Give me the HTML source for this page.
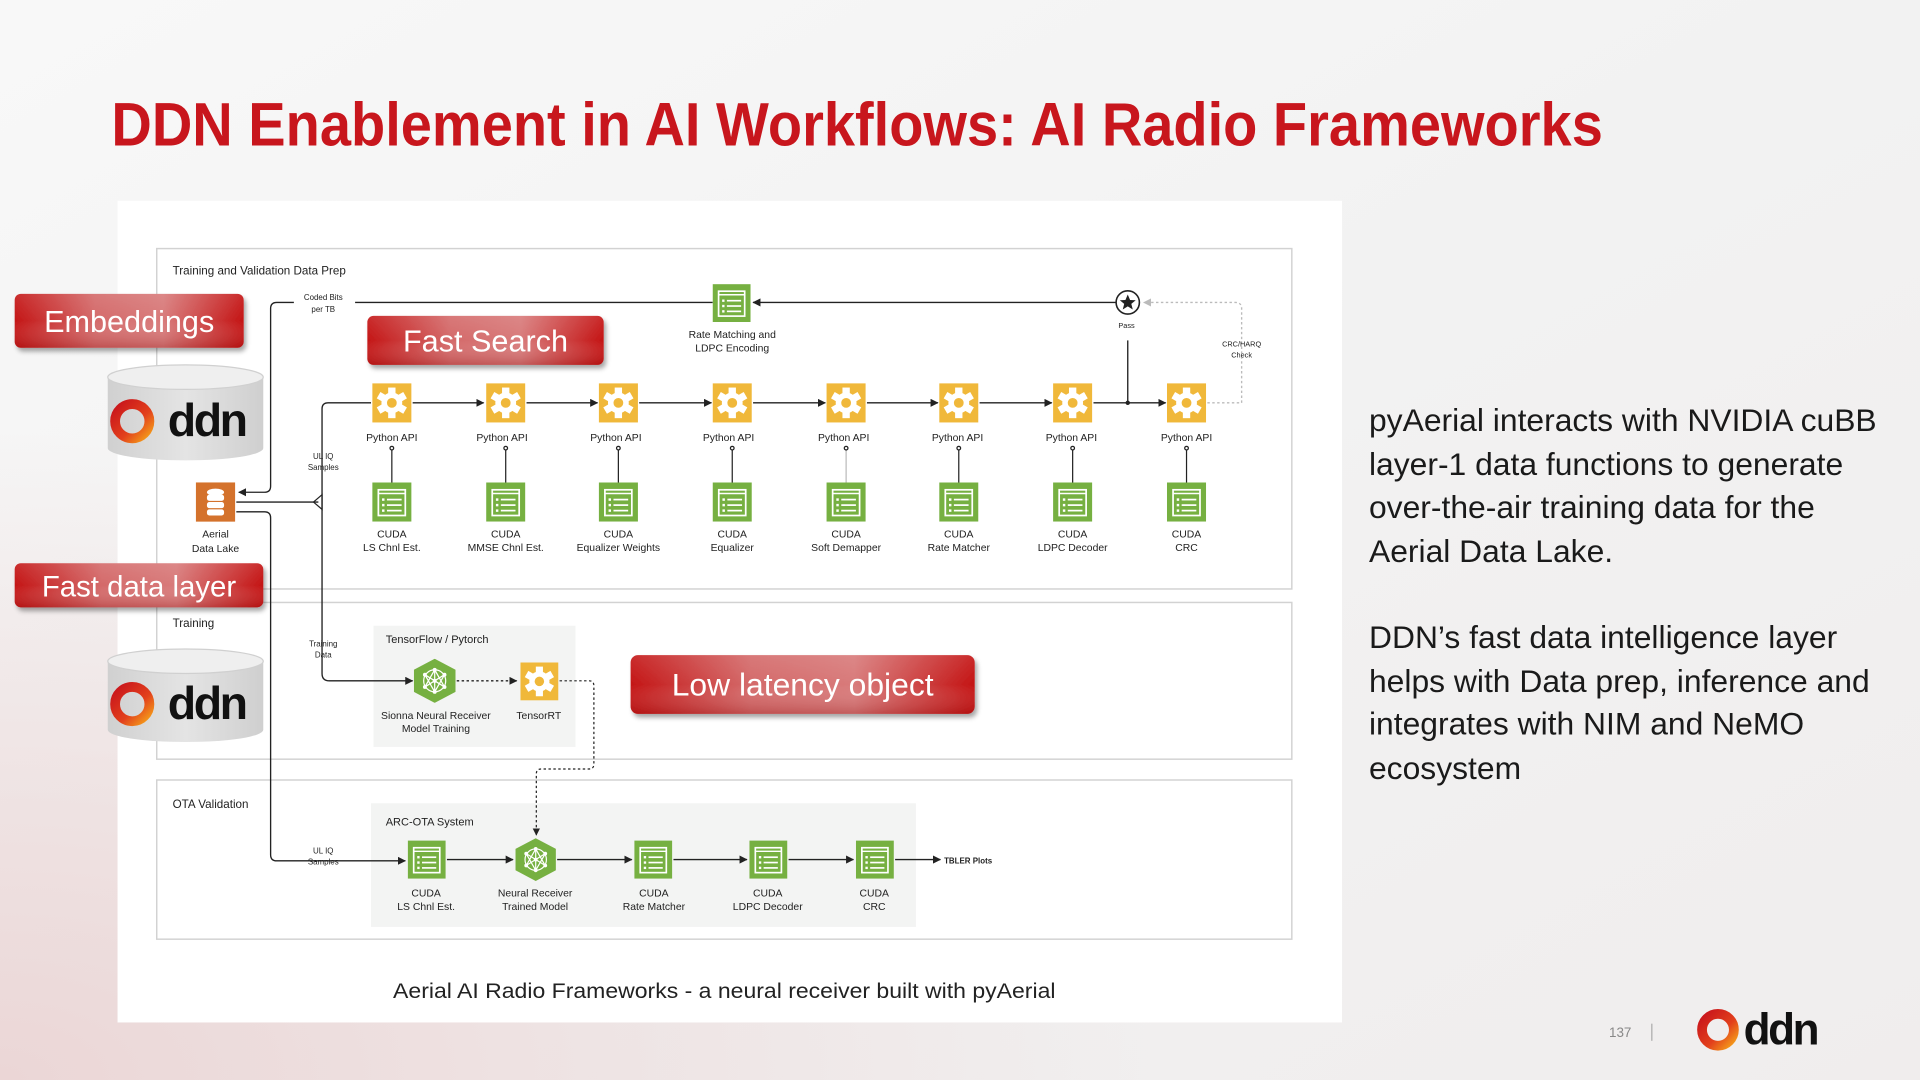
<!DOCTYPE html>
<html><head><meta charset="utf-8">
<style>
html,body{margin:0;padding:0;width:1920px;height:1080px;overflow:hidden;background:#f3f3f3}
svg{display:block}
text{font-family:"Liberation Sans",sans-serif}
</style></head>
<body>
<svg width="1920" height="1080" viewBox="0 0 1568 882" xmlns="http://www.w3.org/2000/svg">
<defs>
<linearGradient id="bg" x1="0" y1="0" x2="1" y2="1">
<stop offset="0" stop-color="#f8f8f8"/><stop offset="0.5" stop-color="#f2f2f2"/><stop offset="1" stop-color="#f0eded"/>
</linearGradient>
<radialGradient id="bgl" cx="0" cy="1" r="0.6" gradientTransform="scale(1,1)">
<stop offset="0" stop-color="#ebd6d6" stop-opacity="1"/><stop offset="1" stop-color="#ebd6d6" stop-opacity="0"/>
</radialGradient>
<linearGradient id="badge" x1="0" y1="0" x2="1" y2="0">
<stop offset="0" stop-color="#c41616"/><stop offset="0.35" stop-color="#d46a6a"/><stop offset="0.65" stop-color="#d87a7a"/><stop offset="1" stop-color="#c41414"/>
</linearGradient>
<linearGradient id="badgev" x1="0" y1="0" x2="0" y2="1">
<stop offset="0" stop-color="#ffffff" stop-opacity="0.1"/><stop offset="0.5" stop-color="#ffffff" stop-opacity="0"/><stop offset="1" stop-color="#800000" stop-opacity="0.25"/>
</linearGradient>
<linearGradient id="cyl" x1="0" y1="0" x2="1" y2="0">
<stop offset="0" stop-color="#d0d0d0"/><stop offset="0.5" stop-color="#e4e4e4"/><stop offset="1" stop-color="#cfcfcf"/>
</linearGradient>
<linearGradient id="ring" x1="0" y1="0" x2="1" y2="1">
<stop offset="0" stop-color="#c8141c"/><stop offset="0.6" stop-color="#e2401c"/><stop offset="1" stop-color="#f5a01a"/>
</linearGradient>
<filter id="sh" x="-10%" y="-20%" width="125%" height="160%"><feDropShadow dx="2" dy="3" stdDeviation="2" flood-color="#000" flood-opacity="0.35"/></filter>
<marker id="ar" viewBox="0 0 6 6" refX="5.5" refY="3" markerWidth="6" markerHeight="6" orient="auto"><path d="M0,0 L6,3 L0,6 z" fill="#222"/></marker>
<marker id="arg" viewBox="0 0 6 6" refX="5.5" refY="3" markerWidth="6" markerHeight="6" orient="auto"><path d="M0,0 L6,3 L0,6 z" fill="#bbb"/></marker>
<symbol id="gear" viewBox="0 0 32 32">
<rect width="32" height="32" fill="#f0b83a"/>
<g fill="#fff" transform="translate(16,16)">
<circle r="8.5"/>
<rect x="-3" y="-12.5" width="6" height="25"/>
<rect x="-3" y="-12.5" width="6" height="25" transform="rotate(60)"/>
<rect x="-3" y="-12.5" width="6" height="25" transform="rotate(120)"/>
</g>
<circle cx="16" cy="16" r="4" fill="#f0b83a"/>
</symbol>
<symbol id="doc" viewBox="0 0 32 32">
<rect width="32" height="32" fill="#76b041"/>
<rect x="5" y="6" width="22" height="21" fill="none" stroke="#fff" stroke-width="1.4"/>
<line x1="5" y1="9" x2="27" y2="9" stroke="#fff" stroke-width="1.2"/>
<g fill="#fff"><rect x="8" y="13" width="2" height="2"/><rect x="8" y="17.5" width="2" height="2"/><rect x="8" y="22" width="2" height="2"/>
<rect x="12" y="13.3" width="12" height="1.4"/><rect x="12" y="17.8" width="12" height="1.4"/><rect x="12" y="22.3" width="12" height="1.4"/></g>
</symbol>
<symbol id="hex" viewBox="0 0 34 36">
<path d="M17,0 L34,9 L34,27 L17,36 L0,27 L0,9 z" fill="#76b041"/>
<g stroke="#fff" stroke-width="1" fill="none"><circle cx="17" cy="18" r="9"/><path d="M17,9 L17,27 M9,13 L25,23 M25,13 L9,23 M9,13 L17,27 L25,13 M9,23 L17,9 L25,23"/></g>
<g fill="#fff"><circle cx="17" cy="9" r="1.6"/><circle cx="17" cy="27" r="1.6"/><circle cx="9" cy="13" r="1.6"/><circle cx="25" cy="13" r="1.6"/><circle cx="9" cy="23" r="1.6"/><circle cx="25" cy="23" r="1.6"/><circle cx="17" cy="18" r="1.6"/></g>
</symbol>
</defs>

<rect width="1568" height="882" fill="url(#bg)"/>
<rect x="0" y="0" width="1568" height="882" fill="url(#bgl)"/>

<text x="91" y="119" font-size="50" font-weight="bold" fill="#c8161d" textLength="1218" lengthAdjust="spacingAndGlyphs">DDN Enablement in AI Workflows: AI Radio Frameworks</text>

<rect x="96" y="164" width="1000" height="671" fill="#fff"/>
<g fill="none" stroke="#d2d2d2" stroke-width="1.2">
<rect x="128" y="203" width="927" height="278"/>
<rect x="128" y="492" width="927" height="128"/>
<rect x="128" y="637" width="927" height="130"/>
</g>
<text x="141" y="224" font-size="9.5" fill="#222">Training and Validation Data Prep</text>
<text x="141" y="512" font-size="9.5" fill="#222">Training</text>
<text x="141" y="660" font-size="9.5" fill="#222">OTA Validation</text>

<rect x="305" y="511" width="165" height="99" fill="#f3f4f3"/>
<rect x="303" y="656" width="445" height="101" fill="#f3f4f3"/>
<text x="315" y="525" font-size="9" fill="#222">TensorFlow / Pytorch</text>
<text x="315" y="674" font-size="9" fill="#222">ARC-OTA System</text>

<g stroke="#222" stroke-width="1.1" fill="none">
<path d="M582,247 H290"/>
<path d="M240,247 H226 Q221,247 221,252 V397 Q221,402 216,402 H195" marker-end="url(#ar)"/>
<path d="M193,410 H260"/>
<path d="M303,329 H268 Q263,329 263,334 V550 Q263,556 269,556 H337" marker-end="url(#ar)"/>
<path d="M193,418 H216 Q221,418 221,423 V698 Q221,703 226,703 H331" marker-end="url(#ar)"/>
<path d="M911,247 H615" marker-end="url(#ar)"/>
<path d="M921,278 V329"/>
</g>
<path d="M256,410 L263,404 L263,416 z" fill="none" stroke="#222" stroke-width="1"/>
<circle cx="921" cy="329" r="1.8" fill="#222"/>
<g stroke="#222" stroke-width="1.1" fill="none">
<path d="M337,329 H395" marker-end="url(#ar)"/>
<path d="M430,329 H488" marker-end="url(#ar)"/>
<path d="M522,329 H581" marker-end="url(#ar)"/>
<path d="M615,329 H674" marker-end="url(#ar)"/>
<path d="M708,329 H766" marker-end="url(#ar)"/>
<path d="M800,329 H859" marker-end="url(#ar)"/>
<path d="M893,329 H952" marker-end="url(#ar)"/>
</g>
<path d="M986,329 H1014 V252 Q1014,247 1009,247 H934" fill="none" stroke="#bbb" stroke-width="1.1" stroke-dasharray="2,2" marker-end="url(#arg)"/>

<text x="264" y="245" font-size="6.5" fill="#222" text-anchor="middle">Coded Bits</text>
<text x="264" y="255" font-size="6.5" fill="#222" text-anchor="middle">per TB</text>
<text x="264" y="375" font-size="6.5" fill="#222" text-anchor="middle">UL IQ</text>
<text x="264" y="384" font-size="6.5" fill="#222" text-anchor="middle">Samples</text>
<text x="264" y="528" font-size="6.5" fill="#222" text-anchor="middle">Training</text>
<text x="264" y="537" font-size="6.5" fill="#222" text-anchor="middle">Data</text>
<text x="264" y="697" font-size="6.5" fill="#222" text-anchor="middle">UL IQ</text>
<text x="264" y="706" font-size="6.5" fill="#222" text-anchor="middle">Samples</text>
<text x="920" y="268" font-size="6" fill="#222" text-anchor="middle">Pass</text>
<text x="1014" y="283" font-size="6" fill="#222" text-anchor="middle">CRC/HARQ</text>
<text x="1014" y="292" font-size="6" fill="#222" text-anchor="middle">Check</text>

<circle cx="921" cy="247" r="9.5" fill="#fff" stroke="#222" stroke-width="1.3"/>
<path d="M921,240.5 L922.9,245 L927.5,245.2 L923.9,248.2 L925.1,252.8 L921,250.2 L916.9,252.8 L918.1,248.2 L914.5,245.2 L919.1,245 z" fill="#222"/>

<use href="#doc" x="582" y="232" width="31" height="31"/>
<text x="598" y="276" font-size="8.5" fill="#222" text-anchor="middle">Rate Matching and</text>
<text x="598" y="287" font-size="8.5" fill="#222" text-anchor="middle">LDPC Encoding</text>

<rect x="160" y="394" width="32" height="32" fill="#d4722c"/>
<g fill="#fff"><ellipse cx="176" cy="402" rx="7" ry="3"/><rect x="169" y="404" width="14" height="5" rx="2"/><rect x="169" y="410" width="14" height="5" rx="2"/><rect x="169" y="416" width="14" height="5" rx="2"/></g>
<text x="176" y="439" font-size="8.5" fill="#222" text-anchor="middle">Aerial</text>
<text x="176" y="451" font-size="8.5" fill="#222" text-anchor="middle">Data Lake</text>

<g>
<use href="#gear" x="304" y="313" width="32" height="32"/>
<use href="#gear" x="397" y="313" width="32" height="32"/>
<use href="#gear" x="489" y="313" width="32" height="32"/>
<use href="#gear" x="582" y="313" width="32" height="32"/>
<use href="#gear" x="675" y="313" width="32" height="32"/>
<use href="#gear" x="767" y="313" width="32" height="32"/>
<use href="#gear" x="860" y="313" width="32" height="32"/>
<use href="#gear" x="953" y="313" width="32" height="32"/>
</g>
<g font-size="8.5" fill="#222" text-anchor="middle">
<text x="320" y="360">Python API</text><text x="410" y="360">Python API</text><text x="503" y="360">Python API</text><text x="595" y="360">Python API</text><text x="689" y="360">Python API</text><text x="782" y="360">Python API</text><text x="875" y="360">Python API</text><text x="969" y="360">Python API</text>
</g>
<g stroke="#222" stroke-width="1" fill="#fff">
<line x1="320" y1="366" x2="320" y2="396"/><line x1="413" y1="366" x2="413" y2="396"/><line x1="505" y1="366" x2="505" y2="396"/><line x1="598" y1="366" x2="598" y2="396"/><line x1="691" y1="366" x2="691" y2="396" stroke="#bbb"/><line x1="783" y1="366" x2="783" y2="396"/><line x1="876" y1="366" x2="876" y2="396"/><line x1="969" y1="366" x2="969" y2="396"/>
<circle cx="320" cy="366" r="1.5"/><circle cx="413" cy="366" r="1.5"/><circle cx="505" cy="366" r="1.5"/><circle cx="598" cy="366" r="1.5"/><circle cx="691" cy="366" r="1.5"/><circle cx="783" cy="366" r="1.5"/><circle cx="876" cy="366" r="1.5"/><circle cx="969" cy="366" r="1.5"/>
</g>
<g>
<use href="#doc" x="304" y="394" width="32" height="32"/>
<use href="#doc" x="397" y="394" width="32" height="32"/>
<use href="#doc" x="489" y="394" width="32" height="32"/>
<use href="#doc" x="582" y="394" width="32" height="32"/>
<use href="#doc" x="675" y="394" width="32" height="32"/>
<use href="#doc" x="767" y="394" width="32" height="32"/>
<use href="#doc" x="860" y="394" width="32" height="32"/>
<use href="#doc" x="953" y="394" width="32" height="32"/>
</g>
<g font-size="8.5" fill="#222" text-anchor="middle">
<text x="320" y="439">CUDA</text><text x="320" y="450">LS Chnl Est.</text>
<text x="413" y="439">CUDA</text><text x="413" y="450">MMSE Chnl Est.</text>
<text x="505" y="439">CUDA</text><text x="505" y="450">Equalizer Weights</text>
<text x="598" y="439">CUDA</text><text x="598" y="450">Equalizer</text>
<text x="691" y="439">CUDA</text><text x="691" y="450">Soft Demapper</text>
<text x="783" y="439">CUDA</text><text x="783" y="450">Rate Matcher</text>
<text x="876" y="439">CUDA</text><text x="876" y="450">LDPC Decoder</text>
<text x="969" y="439">CUDA</text><text x="969" y="450">CRC</text>
</g>

<use href="#hex" x="338" y="538" width="34" height="36"/>
<use href="#gear" x="425" y="541" width="31" height="31"/>
<path d="M373,556 H422" fill="none" stroke="#222" stroke-width="1.1" stroke-dasharray="2,2" marker-end="url(#ar)"/>
<path d="M457,556 H481 Q485,556 485,560 V624 Q485,628 481,628 H442 Q438,628 438,632 V682" fill="none" stroke="#222" stroke-width="1" stroke-dasharray="2,2" marker-end="url(#ar)"/>
<text x="356" y="587" font-size="8.5" fill="#222" text-anchor="middle">Sionna Neural Receiver</text>
<text x="356" y="598" font-size="8.5" fill="#222" text-anchor="middle">Model Training</text>
<text x="440" y="587" font-size="8.5" fill="#222" text-anchor="middle">TensorRT</text>

<use href="#doc" x="333" y="686" width="31" height="32"/>
<use href="#hex" x="421" y="684" width="33" height="36"/>
<use href="#doc" x="518" y="686" width="31" height="32"/>
<use href="#doc" x="612" y="686" width="31" height="32"/>
<use href="#doc" x="699" y="686" width="31" height="32"/>
<g stroke="#222" stroke-width="1.1" fill="none">
<path d="M365,702 H419" marker-end="url(#ar)"/>
<path d="M455,702 H516" marker-end="url(#ar)"/>
<path d="M550,702 H610" marker-end="url(#ar)"/>
<path d="M644,702 H697" marker-end="url(#ar)"/>
<path d="M731,702 H768" marker-end="url(#ar)"/>
</g>
<text x="771" y="705" font-size="6.5" font-weight="bold" fill="#222">TBLER Plots</text>
<g font-size="8.5" fill="#222" text-anchor="middle">
<text x="348" y="732">CUDA</text><text x="348" y="743">LS Chnl Est.</text>
<text x="437" y="732">Neural Receiver</text><text x="437" y="743">Trained Model</text>
<text x="534" y="732">CUDA</text><text x="534" y="743">Rate Matcher</text>
<text x="627" y="732">CUDA</text><text x="627" y="743">LDPC Decoder</text>
<text x="714" y="732">CUDA</text><text x="714" y="743">CRC</text>
</g>

<text x="321" y="815" font-size="17" fill="#222" textLength="541" lengthAdjust="spacingAndGlyphs">Aerial AI Radio Frameworks - a neural receiver built with pyAerial</text>

<g>
<path d="M88,308 V366 A63.5,10 0 0 0 215,366 V308" fill="url(#cyl)"/>
<ellipse cx="151.5" cy="308" rx="63.5" ry="10" fill="#efefef" stroke="#d0d0d0" stroke-width="1"/>
<circle cx="108" cy="344" r="14" fill="none" stroke="url(#ring)" stroke-width="8"/>
<text x="137" y="356" font-size="38" font-weight="bold" fill="#111" letter-spacing="-2">ddn</text>
</g>
<g>
<path d="M88,540 V596 A63.5,10 0 0 0 215,596 V540" fill="url(#cyl)"/>
<ellipse cx="151.5" cy="540" rx="63.5" ry="10" fill="#efefef" stroke="#d0d0d0" stroke-width="1"/>
<circle cx="108" cy="575" r="14" fill="none" stroke="url(#ring)" stroke-width="8"/>
<text x="137" y="587" font-size="38" font-weight="bold" fill="#111" letter-spacing="-2">ddn</text>
</g>

<g filter="url(#sh)">
<rect x="12" y="240" width="187" height="44" rx="5" fill="url(#badge)"/>
<rect x="12" y="240" width="187" height="44" rx="5" fill="url(#badgev)"/>
<rect x="300" y="258" width="193" height="40" rx="5" fill="url(#badge)"/>
<rect x="300" y="258" width="193" height="40" rx="5" fill="url(#badgev)"/>
<rect x="12" y="460" width="203" height="36" rx="5" fill="url(#badge)"/>
<rect x="12" y="460" width="203" height="36" rx="5" fill="url(#badgev)"/>
<rect x="515" y="535" width="281" height="48" rx="6" fill="url(#badge)"/>
<rect x="515" y="535" width="281" height="48" rx="6" fill="url(#badgev)"/>
</g>
<g fill="#fff" text-anchor="middle">
<text x="105.5" y="271" font-size="25">Embeddings</text>
<text x="396.5" y="287" font-size="25">Fast Search</text>
<text x="113.5" y="487" font-size="24">Fast data layer</text>
<text x="655.5" y="568" font-size="26">Low latency object</text>
</g>

<g font-size="26" fill="#1a1a1a">
<text x="1118" y="352">pyAerial interacts with NVIDIA cuBB</text>
<text x="1118" y="388">layer-1 data functions to generate</text>
<text x="1118" y="423">over-the-air training data for the</text>
<text x="1118" y="459">Aerial Data Lake.</text>
<text x="1118" y="529">DDN’s fast data intelligence layer</text>
<text x="1118" y="565">helps with Data prep, inference and</text>
<text x="1118" y="600">integrates with NIM and NeMO</text>
<text x="1118" y="636">ecosystem</text>
</g>

<text x="1314" y="847" font-size="11" fill="#888">137</text>
<line x1="1349" y1="836" x2="1349" y2="850" stroke="#aaa" stroke-width="1"/>
<circle cx="1403" cy="841" r="13" fill="none" stroke="url(#ring)" stroke-width="8"/>
<text x="1424" y="853" font-size="36" font-weight="bold" fill="#111" letter-spacing="-2">ddn</text>
</svg>
</body></html>
